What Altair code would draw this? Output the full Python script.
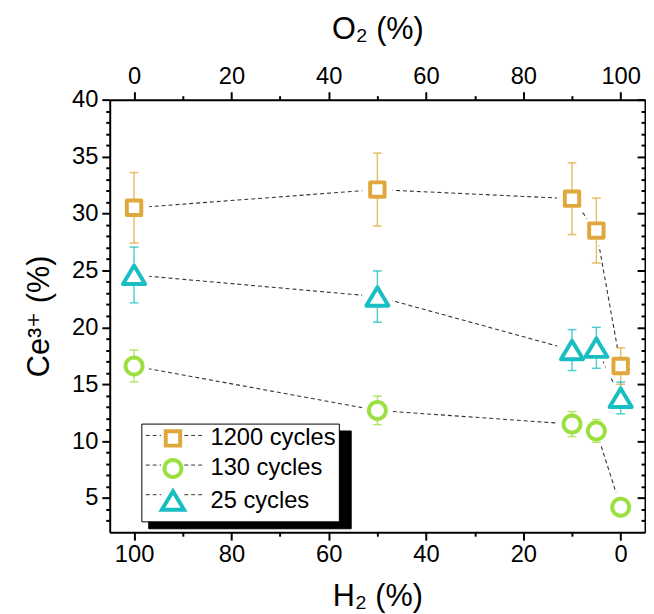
import math
import altair as alt
import pandas as pd

# ---------------- data ----------------
h2_values = [100, 50, 10, 5, 0]
series_names = ["1200 cycles", "130 cycles", "25 cycles"]
ce_1200 = [30.5, 32.1, 31.3, 28.5, 16.6]
err_1200 = [3.1, 3.2, 3.15, 2.85, 1.6]
ce_130 = [16.6, 12.7, 11.5, 10.9, 4.2]
err_130 = [1.4, 1.25, 1.1, 1.0, 0.5]
ce_25 = [24.6, 22.7, 18.0, 18.2, 13.8]
err_25 = [2.45, 2.25, 1.8, 1.8, 1.4]

x_tick_values = [0, 10, 20, 30, 40, 50, 60, 70, 80, 90, 100]
y_tick_values = list(range(3, 41))

# ---------------- styles ----------------
series_colors = ["#E0A83C", "#9CDF40", "#19BEC3"]
circle_path = "M" + "L".join(
    f"{0.86 * math.cos(2 * math.pi * k / 32):.3f},{0.86 * math.sin(2 * math.pi * k / 32):.3f}"
    for k in range(32)) + "Z"
series_shapes = [
    "M-0.73,-0.73H0.73V0.73H-0.73Z",
    circle_path,
    "M0,-0.95L1.12,0.92L-1.12,0.92Z",
]
DASH_PATH = "M-2.75,0H-1.2M1.15,0H3.25"
FONT = "Liberation Sans, Arial, DejaVu Sans"
W, H = 542, 438

rows = []
for name, ce, err in zip(series_names, [ce_1200, ce_130, ce_25], [err_1200, err_130, err_25]):
    for h, v, e in zip(h2_values, ce, err):
        rows.append({"h2": h, "o2": 100 - h, "ce": v, "lo": v - e, "hi": v + e,
                     "series": name, "series_a": name, "series_c": name, "series_e": name})
df = pd.DataFrame(rows)

xs = alt.Scale(domain=[-5, 105], reverse=True, nice=False, zero=False)
xs_top = alt.Scale(domain=[-5, 105], nice=False, zero=False)
ys = alt.Scale(domain=[2, 40], nice=False, zero=False)

axis_common = dict(domainColor="black", domainWidth=2, tickColor="black", tickWidth=2,
                   labelFont=FONT, labelFontSize=24, labelColor="black",
                   titleFont=FONT, titleFontSize=31, titleFontWeight="normal",
                   titleColor="black", grid=False, labelOverlap=False)

tick_x = {"condition": {"test": "datum.value % 20 === 0", "value": 8}, "value": 4}
tick_y = {"condition": {"test": "datum.value % 5 === 0", "value": 8}, "value": 4}

x_axis_bottom = alt.Axis(orient="bottom", values=x_tick_values, tickSize=tick_x,
                         labelExpr="datum.value % 20 === 0 ? datum.label : ''",
                         title="H₂ (%)", labelPadding=3, titlePadding=15, **axis_common)
x_axis_top = alt.Axis(orient="top", values=x_tick_values, tickSize=tick_x,
                      labelExpr="datum.value % 20 === 0 ? datum.label : ''",
                      title="O₂ (%)", labelPadding=3, titlePadding=20, **axis_common)
y_axis_left = alt.Axis(orient="left", values=y_tick_values, tickSize=tick_y,
                       labelExpr="datum.value % 5 === 0 ? datum.label : ''",
                       title="Ce³⁺ (%)", labelPadding=4, titlePadding=16, **axis_common)
y_axis_right = alt.Axis(orient="left", offset=-W, values=y_tick_values, tickSize=tick_y,
                        labels=False, title=None, **axis_common)

LX, LY = 32, 328
legend_common = dict(orient="none", title=None, labelFont=FONT, labelFontSize=24,
                     labelColor="black", symbolSize=400, padding=3,
                     symbolOffset=17, labelLimit=400, symbolStrokeWidth=4)
legend_a = alt.Legend(legendX=LX + 7, legendY=LY + 7, fillColor="black", strokeColor="black",
                      labelExpr="'\u00a0'", labelOffset=158, symbolOpacity=0, zindex=1,
                      rowPadding=10.5, **legend_common)
legend_b = alt.Legend(legendX=LX, legendY=LY, fillColor="white", strokeColor="black",
                      symbolFillColor="white", labelOffset=26, zindex=2,
                      rowPadding=-2.5, **legend_common)
legend_c = alt.Legend(legendX=LX, legendY=LY - 3, symbolType=DASH_PATH, symbolStrokeColor="#333333",
                      labelExpr="''", labelOffset=26, zindex=3, rowPadding=6,
                      **{**legend_common, "symbolStrokeWidth": 1})

X_none = alt.X("h2:Q", scale=xs, axis=None)
Y_none = alt.Y("ce:Q", scale=ys, axis=None)
stroke_scale = alt.Scale(domain=series_names, range=series_colors)
# data-driven (alphabetical) domain for the error-bar colours, so that this
# legend-less scale is not merged with the visible legend
color_scale = alt.Scale(range=series_colors)

base = alt.Chart(df)

lines = base.mark_line(color="#333333", strokeWidth=1.1).encode(
    x=X_none, y=Y_none,
    strokeDash=alt.StrokeDash("series_c:N", scale=alt.Scale(range=[[4, 3]] * 3), legend=legend_c),
)

halo = base.mark_point(shape="circle", filled=True, size=960, color="white", opacity=1).encode(
    x=X_none, y=Y_none, detail="series:N",
)

err_rule = base.mark_rule(strokeWidth=1.5).encode(
    x=X_none, y=alt.Y("lo:Q", scale=ys, axis=None), y2="hi:Q",
    color=alt.Color("series_e:N", scale=color_scale, legend=None),
    opacity=alt.Opacity("series_a:N", scale=alt.Scale(range=[0.75, 0.75, 0.75]), legend=legend_a),
)
cap_lo = base.mark_tick(orient="horizontal", size=9, thickness=1.5, opacity=0.75).encode(
    x=X_none, y=alt.Y("lo:Q", scale=ys, axis=None),
    color=alt.Color("series_e:N", scale=color_scale, legend=None),
)
cap_hi = base.mark_tick(orient="horizontal", size=9, thickness=1.5, opacity=0.75).encode(
    x=X_none, y=alt.Y("hi:Q", scale=ys, axis=None),
    color=alt.Color("series_e:N", scale=color_scale, legend=None),
)

points = base.mark_point(filled=True, fill="white", strokeWidth=4, size=400, opacity=1,
                         strokeJoin="round").encode(
    x=alt.X("h2:Q", scale=xs, axis=x_axis_bottom),
    y=alt.Y("ce:Q", scale=ys, axis=y_axis_left),
    stroke=alt.Stroke("series:N", scale=stroke_scale, legend=legend_b),
    shape=alt.Shape("series:N", scale=alt.Scale(domain=series_names, range=series_shapes), legend=legend_b),
)

top_layer = base.mark_point(opacity=0, size=400).encode(
    x=alt.X("o2:Q", scale=xs_top, axis=x_axis_top),
    y=alt.Y("ce:Q", scale=ys, axis=y_axis_right),
)

chart = alt.layer(lines, halo, err_rule, cap_lo, cap_hi, points, top_layer).resolve_scale(
    x="independent", y="independent"
).properties(
    width=W, height=H,
    autosize=alt.AutoSizeParams(type="none"),
    padding={"left": 103, "top": 89, "right": 1, "bottom": 79},
).configure_view(stroke=None).configure(font=FONT)

chart.save("out.html", embed_options={"renderer": "svg", "actions": False})
